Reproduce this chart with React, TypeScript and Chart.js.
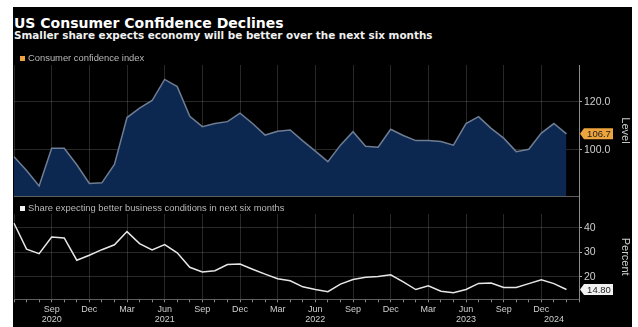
import React, { useEffect, useRef } from "react";
import { Chart, registerables } from "chart.js";

Chart.register(...registerables);

// ---------- DATA ----------
const monthLabels = [
  "Jun 2020", "Jul 2020", "Aug 2020", "Sep 2020", "Oct 2020", "Nov 2020", "Dec 2020",
  "Jan 2021", "Feb 2021", "Mar 2021", "Apr 2021", "May 2021", "Jun 2021",
  "Jul 2021", "Aug 2021", "Sep 2021", "Oct 2021", "Nov 2021", "Dec 2021",
  "Jan 2022", "Feb 2022", "Mar 2022", "Apr 2022", "May 2022", "Jun 2022",
  "Jul 2022", "Aug 2022", "Sep 2022", "Oct 2022", "Nov 2022", "Dec 2022",
  "Jan 2023", "Feb 2023", "Mar 2023", "Apr 2023", "May 2023", "Jun 2023",
  "Jul 2023", "Aug 2023", "Sep 2023", "Oct 2023", "Nov 2023", "Dec 2023",
  "Jan 2024", "Feb 2024", "Mar 2024",
];

const confidenceIndex = [
  97.2, 91.4, 85.0, 100.7, 100.7, 93.8, 86.0,
  86.3, 94.0, 113.5, 117.4, 120.6, 129.4,
  126.4, 114.0, 109.7, 111.0, 111.8, 115.3,
  111.0, 106.2, 107.8, 108.3, 103.8, 99.5,
  95.1, 102.0, 107.6, 101.5, 101.1, 108.6,
  106.0, 103.9, 103.9, 103.5, 102.0, 111.0,
  113.9, 109.0, 104.9, 99.3, 100.3, 107.0,
  111.0, 106.7,
];

const shareBetter = [
  41.9, 31.3, 29.5, 36.3, 35.9, 26.8, 28.8,
  31.1, 33.1, 38.5, 33.6, 31.0, 33.2,
  29.8, 23.9, 22.0, 22.5, 25.0, 25.2,
  23.1, 21.1, 19.2, 18.4, 15.9, 14.8,
  13.9, 17.0, 18.9, 19.8, 20.1, 20.8,
  17.9, 14.8, 16.3, 14.1, 13.5, 14.8,
  17.3, 17.5, 15.6, 15.6, 17.2, 18.8,
  17.2, 14.8,
];

const levelTicks = [100, 120];
const percentTicks = [20, 30, 40];
const levelRange = [80.8, 135.4];
const percentRange = [10.8, 45.7];

const quarterMonths = ["Mar", "Jun", "Sep", "Dec"];
const yearLabelMonths = ["Sep 2020", "Jun 2021", "Jun 2022", "Jun 2023"];
const yearOnlyMonths = ["Jan 2024"];
const unlabeledMonths = ["Jun 2020", "Mar 2024"];

const title = "US Consumer Confidence Declines";
const subtitle = "Smaller share expects economy will be better over the next six months";
const topLegend = "Consumer confidence index";
const bottomLegend = "Share expecting better business conditions in next six months";

// ---------- HELPERS ----------
const FONT = '"Liberation Sans", Arial, sans-serif';
const TITLE_FONT = '"DejaVu Sans", Verdana, sans-serif';

function isQuarter(idx: number) {
  const l = monthLabels[idx];
  if (!l) return false;
  return quarterMonths.includes(l.split(" ")[0]);
}

function tickLines(idx: number): string | string[] {
  const label = monthLabels[idx];
  if (!label) return "";
  const [m, y] = label.split(" ");
  if (yearOnlyMonths.includes(label)) return ["", y];
  if (unlabeledMonths.includes(label) || !quarterMonths.includes(m)) return "";
  if (yearLabelMonths.includes(label)) return [m, y];
  return [m];
}

const lastValuePlugin = {
  id: "lastValue",
  afterDraw(chart: any, _args: any, opts: any) {
    if (!opts || !opts.bg) return;
    const ds = chart.data.datasets[0];
    const v = ds.data[ds.data.length - 1];
    const y = chart.scales.y.getPixelForValue(v);
    const x = chart.chartArea.right + 1;
    const ctx = chart.ctx;
    ctx.save();
    ctx.fillStyle = opts.bg;
    ctx.beginPath();
    ctx.moveTo(x, y);
    ctx.lineTo(x + 4, y - 5.5);
    ctx.lineTo(x + 33, y - 5.5);
    ctx.lineTo(x + 33, y + 5.5);
    ctx.lineTo(x + 4, y + 5.5);
    ctx.closePath();
    ctx.fill();
    ctx.fillStyle = opts.color;
    ctx.font = `9.5px ${FONT}`;
    ctx.textAlign = "center";
    ctx.textBaseline = "middle";
    ctx.fillText(v.toFixed(opts.decimals), x + 19, y + 0.5);
    ctx.restore();
  },
};

const AXIS_W = 53;
const gridFaint = "rgba(120,120,120,0.33)";
const labelColor = "#cfcfcf";

export default function App() {
  const topRef = useRef<HTMLCanvasElement>(null);
  const botRef = useRef<HTMLCanvasElement>(null);

  useEffect(() => {
    const top = new Chart(topRef.current!, {
      type: "line",
      data: {
        labels: monthLabels,
        datasets: [
          {
            label: topLegend,
            data: confidenceIndex,
            borderColor: "#6e7d93",
            borderWidth: 1.5,
            backgroundColor: "#0d2850",
            fill: "start",
            pointRadius: 0,
            tension: 0,
          },
        ],
      },
      plugins: [lastValuePlugin],
      options: {
        animation: false,
        responsive: false,
        layout: { padding: { top: 5, bottom: 4, left: 1, right: 0 } },
        plugins: {
          legend: { display: false },
          tooltip: { enabled: false },
          lastValue: { bg: "#eea43c", color: "#1a1a1a", decimals: 1 },
        } as any,
        scales: {
          x: {
            type: "category",
            offset: false,
            z: 1,
            grid: {
              color: (c: any) => (isQuarter(c.index) ? gridFaint : "rgba(0,0,0,0)"),
              drawTicks: false,
            },
            border: { display: true, color: "#5e5e5e" },
            ticks: { display: false },
            afterFit: (s: any) => { s.paddingLeft = 0; s.paddingRight = 0; },
          },
          y: {
            position: "right",
            min: levelRange[0],
            max: levelRange[1],
            z: 1,
            afterBuildTicks: (s: any) => { s.ticks = levelTicks.map((v) => ({ value: v })); },
            afterFit: (s: any) => { s.width = AXIS_W; s.paddingTop = 0; s.paddingBottom = 0; },
            grid: { color: gridFaint, tickColor: "#aaaaaa", tickLength: 3 },
            border: { color: "#8a8a8a" },
            ticks: {
              color: labelColor,
              font: { family: FONT, size: 10.5 },
              padding: 2,
              callback: (v: any) => Number(v).toFixed(1),
            },
            title: {
              display: true,
              text: "Level",
              color: labelColor,
              font: { family: FONT, size: 11 },
              padding: { top: 0, bottom: 7 },
            },
          },
        },
      },
    } as any);

    const bot = new Chart(botRef.current!, {
      type: "line",
      data: {
        labels: monthLabels,
        datasets: [
          {
            label: bottomLegend,
            data: shareBetter,
            borderColor: "#e6e6e6",
            borderWidth: 1.5,
            fill: false,
            pointRadius: 0,
            tension: 0,
          },
        ],
      },
      plugins: [lastValuePlugin],
      options: {
        animation: false,
        responsive: false,
        layout: { padding: { top: 14, bottom: 0, left: 1, right: 0 } },
        plugins: {
          legend: { display: false },
          tooltip: { enabled: false },
          lastValue: { bg: "#f2f2f2", color: "#1a1a1a", decimals: 2 },
        } as any,
        scales: {
          x: {
            type: "category",
            offset: false,
            z: 1,
            grid: {
              color: (c: any) => (isQuarter(c.index) ? gridFaint : "rgba(0,0,0,0)"),
              tickColor: "#8a8a8a",
              tickLength: 3,
            },
            border: { display: true, color: "#5e5e5e" },
            ticks: {
              color: labelColor,
              font: { family: FONT, size: 9, lineHeight: 1.15 },
              padding: 2,
              maxRotation: 0,
              minRotation: 0,
              autoSkip: false,
              callback: (_v: any, idx: number) => tickLines(idx),
            },
            afterFit: (s: any) => { s.paddingLeft = 0; s.paddingRight = 0; },
          },
          y: {
            position: "right",
            min: percentRange[0],
            max: percentRange[1],
            z: 1,
            afterBuildTicks: (s: any) => { s.ticks = percentTicks.map((v) => ({ value: v })); },
            afterFit: (s: any) => { s.width = AXIS_W; s.paddingTop = 0; s.paddingBottom = 0; },
            grid: { color: gridFaint, tickColor: "#aaaaaa", tickLength: 3 },
            border: { color: "#8a8a8a" },
            ticks: {
              color: labelColor,
              font: { family: FONT, size: 10.5 },
              padding: 2,
              callback: (v: any) => String(v),
            },
            title: {
              display: true,
              text: "Percent",
              color: labelColor,
              font: { family: FONT, size: 11 },
              padding: { top: 0, bottom: 7 },
            },
          },
        },
      },
    } as any);

    return () => {
      top.destroy();
      bot.destroy();
    };
  }, []);

  const legendStyle: React.CSSProperties = {
    position: "absolute",
    left: 7,
    font: `9.4px ${FONT}`,
    lineHeight: "10px",
    color: "#b8b8b8",
    whiteSpace: "nowrap",
    display: "flex",
    alignItems: "center",
    zIndex: 2,
  };

  return (
    <div
      style={{
        position: "absolute",
        left: 13,
        top: 7,
        width: 619,
        height: 320,
        background: "#000",
        overflow: "hidden",
      }}
    >
      <div
        style={{
          position: "absolute",
          left: 1,
          top: 9,
          font: `bold 14px ${TITLE_FONT}`,
          lineHeight: "15px",
          color: "#ffffff",
          whiteSpace: "nowrap",
        }}
      >
        {title}
      </div>
      <div
        style={{
          position: "absolute",
          left: 1,
          top: 23,
          font: `bold 10.4px ${TITLE_FONT}`,
          lineHeight: "11px",
          color: "#f0f0f0",
          whiteSpace: "nowrap",
        }}
      >
        {subtitle}
      </div>

      <canvas
        ref={topRef}
        width={619}
        height={140}
        style={{ position: "absolute", left: 0, top: 53, width: 619, height: 140 }}
      />
      <canvas
        ref={botRef}
        width={619}
        height={127}
        style={{ position: "absolute", left: 0, top: 193, width: 619, height: 127 }}
      />
      <div
        style={{
          position: "absolute",
          left: 566,
          top: 189,
          width: 1,
          height: 18,
          background: "#8a8a8a",
        }}
      />

      <div style={{ ...legendStyle, top: 46 }}>
        <span style={{ display: "inline-block", width: 5, height: 5, background: "#eea43c", marginRight: 3 }} />
        {topLegend}
      </div>
      <div style={{ ...legendStyle, top: 196 }}>
        <span style={{ display: "inline-block", width: 5, height: 5, background: "#f2f2f2", marginRight: 3 }} />
        {bottomLegend}
      </div>
    </div>
  );
}
